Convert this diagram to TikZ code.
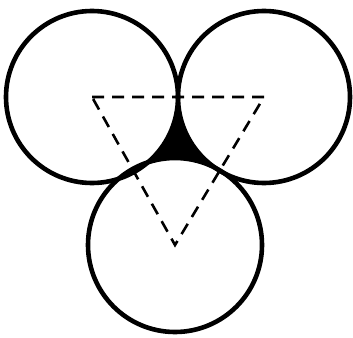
\documentclass[tikz,border=0pt]{standalone}
\begin{document}
\begin{tikzpicture}[x=1pt,y=-1pt,
  ring/.style={line width=4.6pt},
  centerline/.style={line width=2.6pt, dash pattern=on 12pt off 8pt}]
\useasboundingbox (0,0) rectangle (353,337);
\coordinate (A) at (92,97);
\coordinate (B) at (264,97);
\coordinate (C) at (175,245);
\begin{scope}
  \clip (A) -- (B) -- (C) -- cycle;
  \fill[black] (A) -- (B) -- (C) -- cycle;
\end{scope}
\fill[white] (A) circle[radius=86];
\fill[white] (B) circle[radius=86];
\fill[white] (C) circle[radius=87];
\draw[ring] (A) circle[radius=86];
\draw[ring] (B) circle[radius=86];
\draw[ring] (C) circle[radius=87];
\draw[centerline] (A) -- (B) -- (C) -- cycle;
\end{tikzpicture}
\end{document}
